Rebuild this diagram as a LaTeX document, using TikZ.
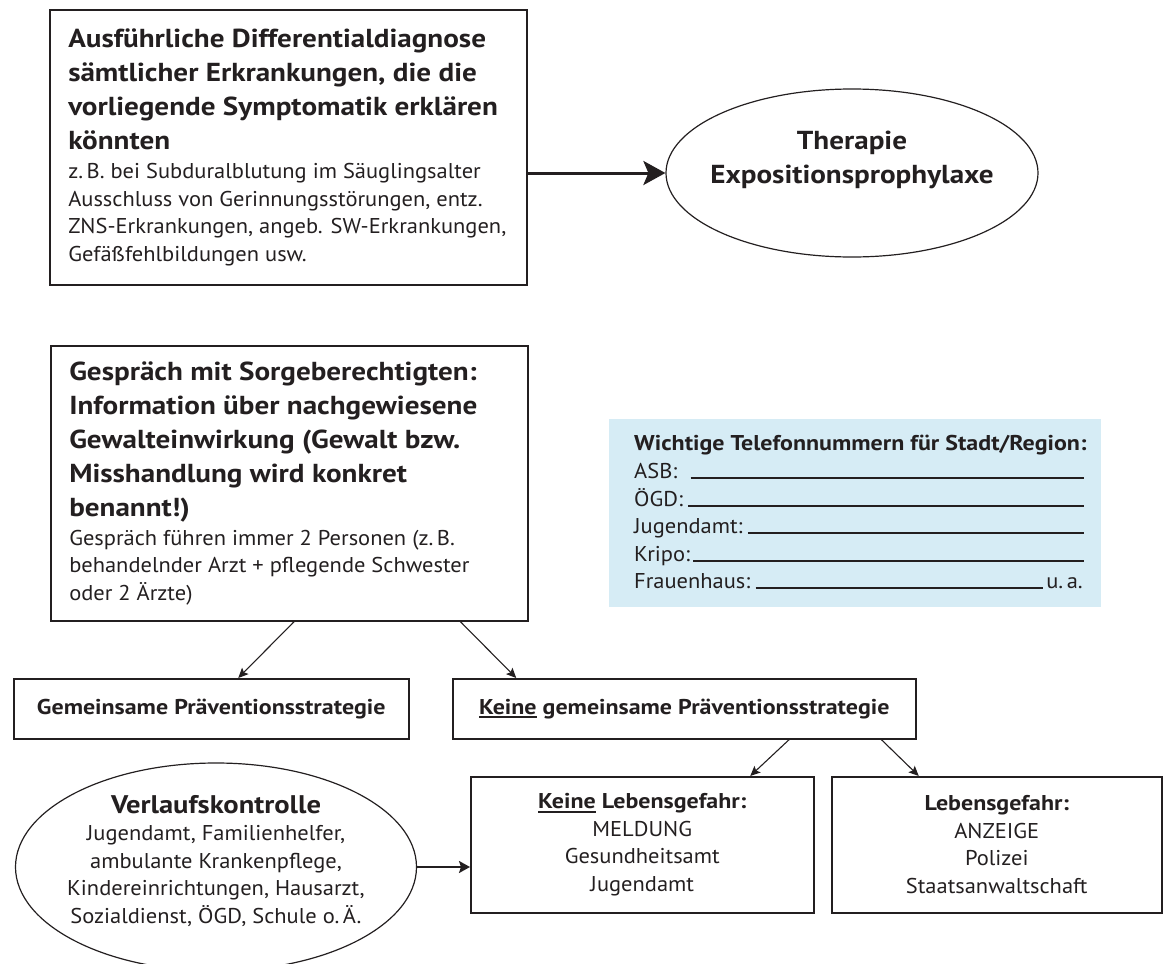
\documentclass[tikz,border=0pt]{standalone}
\usepackage{fontspec}
\setmainfont{PT Sans}[UprightFeatures={FakeStretch=1.05}, BoldFeatures={FakeStretch=1.12}]
\usetikzlibrary{shapes.geometric,arrows.meta}

\definecolor{hellblau}{HTML}{D6ECF5}
\definecolor{schrift}{HTML}{231F20}
\newcommand{\kopf}{\bfseries\fontsize{26}{34}\selectfont\spaceskip=0pt\xspaceskip=0pt\relax}
\newcommand{\fliess}{\fontsize{21.4}{27.5}\selectfont\spaceskip=0pt\xspaceskip=0pt\relax}
\newcommand{\unterstr}[1]{\setbox0\hbox{#1}\rlap{\rule[-4pt]{\wd0}{1.8pt}}\box0\relax}

\begin{document}
\begin{tikzpicture}[x=1pt,y=-1pt,
    kasten/.style={draw=schrift, line width=1.5pt, inner sep=0pt, text=schrift, anchor=north west},
    grossbox/.style={kasten, minimum width=477pt, minimum height=275pt, text width=440pt, align=left},
    oval/.style={draw=schrift, line width=1.2pt, ellipse, inner sep=0pt},
    zeile/.style={anchor=base west, inner sep=0pt, text=schrift, font=\fliess},
    linie/.style={line width=1.4pt, draw=schrift},
    pfeil/.style={-{Stealth[length=10pt,width=9pt,inset=2pt]}, line width=1.1pt, draw=schrift},
    mittelpfeil/.style={-{Stealth[length=11pt,width=12pt,inset=2pt]}, line width=2pt, draw=schrift},
    dickpfeil/.style={-{Stealth[length=22pt,width=24pt,inset=5pt]}, line width=3pt, draw=schrift}]
\useasboundingbox (0,0) rectangle (1163,964);
\clip (0,0) rectangle (1163,964);

% oben: Diagnose -> Therapie
\node[grossbox] (diagnose) at (49,9) {\kopf Ausführliche Differentialdiagnose\\ sämtlicher Erkrankungen, die die\\ vorliegende Symptomatik erklären\\ könnten\par\vspace{2pt}\normalfont\fliess z.\,B. bei Subduralblutung im Säuglingsalter\\ Ausschluss von Gerinnungsstörungen, entz.\\ ZNS-Erkrankungen, angeb. SW-Erkrankungen,\\ Gefäßfehlbildungen usw.\par};
\node[oval, minimum width=372pt, minimum height=168pt] (therapie) at (852,173) {};
\node[align=center, font=\kopf, text=schrift] (therapietext) at ([yshift=13pt]therapie.center) {Therapie\\ Expositionsprophylaxe};
\draw[dickpfeil] (diagnose.east |- therapie.west) -- (therapie.west);

% Gespraech
\node[grossbox] (gespraech) at (50,345) {\kopf Gespräch mit Sorgeberechtigten:\\ Information über nachgewiesene\\ Gewalteinwirkung (Gewalt bzw.\\ Misshandlung wird konkret\\ benannt!)\par\vspace{1pt}\normalfont\fliess Gespräch führen immer 2 Personen (z.\,B.\\ behandelnder Arzt + pflegende Schwester\\ oder 2 Ärzte)\par};

% Telefonnummern
\node[fill=hellblau, minimum width=492pt, minimum height=188pt, inner sep=0pt, anchor=north west] (telefon) at (609,419) {};
\coordinate (zeilenende) at (1084,0);
\node[zeile, font=\fliess\bfseries] (teltitel) at (634,450) {Wichtige Telefonnummern für Stadt/Region:};
\node[zeile] (asb) at (634,478) {ASB:};
\node[zeile] (oegd) at (634,506) {ÖGD:};
\node[zeile] (jugend) at (634,533) {Jugendamt:};
\node[zeile] (kripo) at (634,561) {Kripo:};
\node[zeile] (frauen) at (634,588) {Frauenhaus:};
\node[zeile, anchor=base east] (ua) at (1083,588) {u.\,a.};
\draw[linie] (asb.base east) ++(13,0) -- (zeilenende |- asb.base);
\draw[linie] (oegd.base east) ++(5,0) -- (zeilenende |- oegd.base);
\draw[linie] (jugend.base east) ++(5,0) -- (zeilenende |- jugend.base);
\draw[linie] (kripo.base east) ++(3,0) -- (zeilenende |- kripo.base);
\draw[linie] (frauen.base east) ++(5,0) -- ([xshift=-3pt]ua.base west);

% Strategien
\node[kasten, minimum width=395pt, minimum height=60pt, font=\fliess\bfseries] (gemeinsam) at (13,678) {Gemeinsame Präventionsstrategie};
\node[kasten, minimum width=463pt, minimum height=60pt, font=\fliess\bfseries] (keine) at (452,678) {\unterstr{Keine} gemeinsame Präventionsstrategie};
\draw[pfeil] ([xshift=5pt]gespraech.south) -- ([xshift=27pt]gemeinsam.north);
\draw[pfeil] ([xshift=171pt]gespraech.south) -- ([xshift=-168pt]keine.north);

% unten
\node[kasten, minimum width=343pt, minimum height=136pt, align=center, font=\fliess] (keinleben) at (470,776) {\textbf{\unterstr{Keine} Lebensgefahr:}\\ MELDUNG\\ Gesundheitsamt\\ Jugendamt};
\node[kasten, minimum width=330pt, minimum height=136pt, align=center, font=\fliess] (leben) at (831,776) {\textbf{Lebensgefahr:}\\ ANZEIGE\\ Polizei\\ Staatsanwaltschaft};
\draw[pfeil] ([xshift=105pt]keine.south) -- ([xshift=108pt]keinleben.north);
\draw[pfeil] ([xshift=197pt]keine.south) -- ([xshift=-78pt]leben.north);

\node[oval, minimum width=401pt, minimum height=208pt] (verlauf) at (216,867) {};
\node[align=center, font=\fliess, text=schrift] (verlauftext) at ([yshift=6pt]verlauf.center) {{\bfseries\fontsize{25.5}{28}\selectfont Verlaufskontrolle}\\ Jugendamt, Familienhelfer,\\ ambulante Krankenpflege,\\ Kindereinrichtungen, Hausarzt,\\ Sozialdienst, ÖGD, Schule o.\,Ä.};
\draw[mittelpfeil] (verlauf.east) -- (keinleben.west |- verlauf.east);
\end{tikzpicture}
\end{document}
